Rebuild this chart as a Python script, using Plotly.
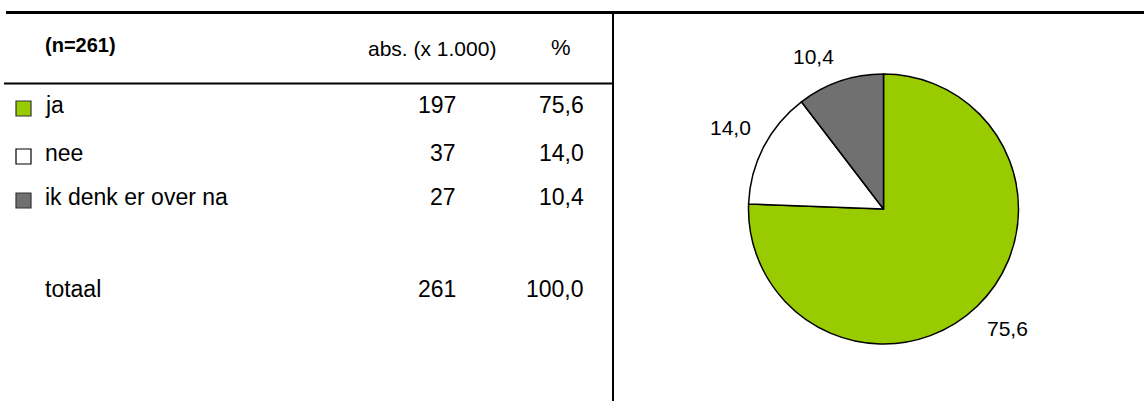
import math
import plotly.graph_objects as go

# ---- data ----
categories = ["ja", "nee", "ik denk er over na"]
abs_values = [197, 37, 27]          # x 1.000
pct_values = [75.6, 14.0, 10.4]
total_label = "totaal"
total_abs = 261
total_pct = 100.0
n_label = "(n=261)"
col_headers = ["abs. (x 1.000)", "%"]
colors = ["#99CC00", "#FFFFFF", "#707070"]

# ---- layout constants (pixels) ----
W, H = 1144, 401
FONT = "Liberation Sans, Arial, sans-serif"
FS_TABLE = 23
FS_PIE = 21
PIE_CX, PIE_CY, PIE_R = 883.5, 209, 135
LABEL_GAP = 12


def fmt(v):
    return f"{v:.1f}".replace(".", ",")


def px(x):
    return x / W


def py(y):
    return 1 - y / H


fig = go.Figure()

# pie chart (labels added below from the same values)
fig.add_trace(go.Pie(
    labels=categories,
    values=pct_values,
    textinfo="none",
    marker=dict(colors=colors, line=dict(color="#000000", width=1.5)),
    sort=False,
    direction="clockwise",
    rotation=0,
    showlegend=False,
    hoverinfo="label+percent",
    domain=dict(x=[px(PIE_CX - PIE_R), px(PIE_CX + PIE_R)],
                y=[py(PIE_CY + PIE_R), py(PIE_CY - PIE_R)]),
))

# legend squares in the table (hidden pixel axis)
row_y = [105, 153, 197]
sq_y = [108.5, 156.5, 200.5]
fig.add_trace(go.Scatter(
    x=[23.5] * len(categories),
    y=sq_y,
    mode="markers",
    marker=dict(symbol="square", size=15, color=colors,
                line=dict(color=["#333333", "#000000", "#333333"], width=1.2)),
    showlegend=False, hoverinfo="skip",
    xaxis="x", yaxis="y",
))

fig.update_layout(
    width=W, height=H,
    margin=dict(l=0, r=0, t=0, b=0),
    paper_bgcolor="white", plot_bgcolor="white",
    xaxis=dict(range=[0, W], domain=[0, 1], visible=False, fixedrange=True),
    yaxis=dict(range=[H, 0], domain=[0, 1], visible=False, fixedrange=True),
    font=dict(family=FONT, size=FS_TABLE, color="#000000"),
)

ann = []
# header
ann.append(dict(x=43, y=45, text=f"<b>{n_label}</b>", xanchor="left", yanchor="middle",
                font=dict(size=20)))
ann.append(dict(x=432, y=48, text=col_headers[0], xanchor="center", yanchor="middle",
                font=dict(size=21)))
ann.append(dict(x=561, y=47, text=col_headers[1], xanchor="center", yanchor="middle",
                font=dict(size=22)))
# rows
for cat, a, p, y in zip(categories, abs_values, pct_values, row_y):
    ann.append(dict(x=43, y=y, text=cat, xanchor="left", yanchor="middle"))
    ann.append(dict(x=458, y=y, text=str(a), xanchor="right", yanchor="middle"))
    ann.append(dict(x=586, y=y, text=fmt(p), xanchor="right", yanchor="middle"))
ann.append(dict(x=43, y=289, text=total_label, xanchor="left", yanchor="middle"))
ann.append(dict(x=458, y=289, text=str(total_abs), xanchor="right", yanchor="middle"))
ann.append(dict(x=586, y=289, text=fmt(total_pct), xanchor="right", yanchor="middle"))

# pie labels, placed outside each slice at its mid angle (clockwise from 12 o'clock)
total = sum(pct_values)
cum = 0.0
for v in pct_values:
    mid = (cum + v / 2) / total * 2 * math.pi
    cum += v
    dx, dy = math.sin(mid), -math.cos(mid)
    rr = PIE_R + LABEL_GAP
    ann.append(dict(
        x=PIE_CX + rr * dx, y=PIE_CY + rr * dy, text=fmt(v),
        xanchor="left" if dx >= 0 else "right",
        yanchor="top" if dy >= 0 else "bottom",
        font=dict(size=FS_PIE),
    ))

for a in ann:
    a.update(xref="x", yref="y", showarrow=False)
fig.update_layout(annotations=ann)

# rules
fig.update_layout(shapes=[
    dict(type="line", xref="x", yref="y", x0=6, x1=W, y0=12.5, y1=12.5,
         line=dict(color="#000000", width=3)),
    dict(type="line", xref="x", yref="y", x0=4, x1=613, y0=83.5, y1=83.5,
         line=dict(color="#000000", width=2)),
    dict(type="line", xref="x", yref="y", x0=613, x1=613, y0=12, y1=H,
         line=dict(color="#000000", width=2)),
])

fig.write_html("out.html", config={"displayModeBar": False},
               post_script="document.body.style.margin='0';")
